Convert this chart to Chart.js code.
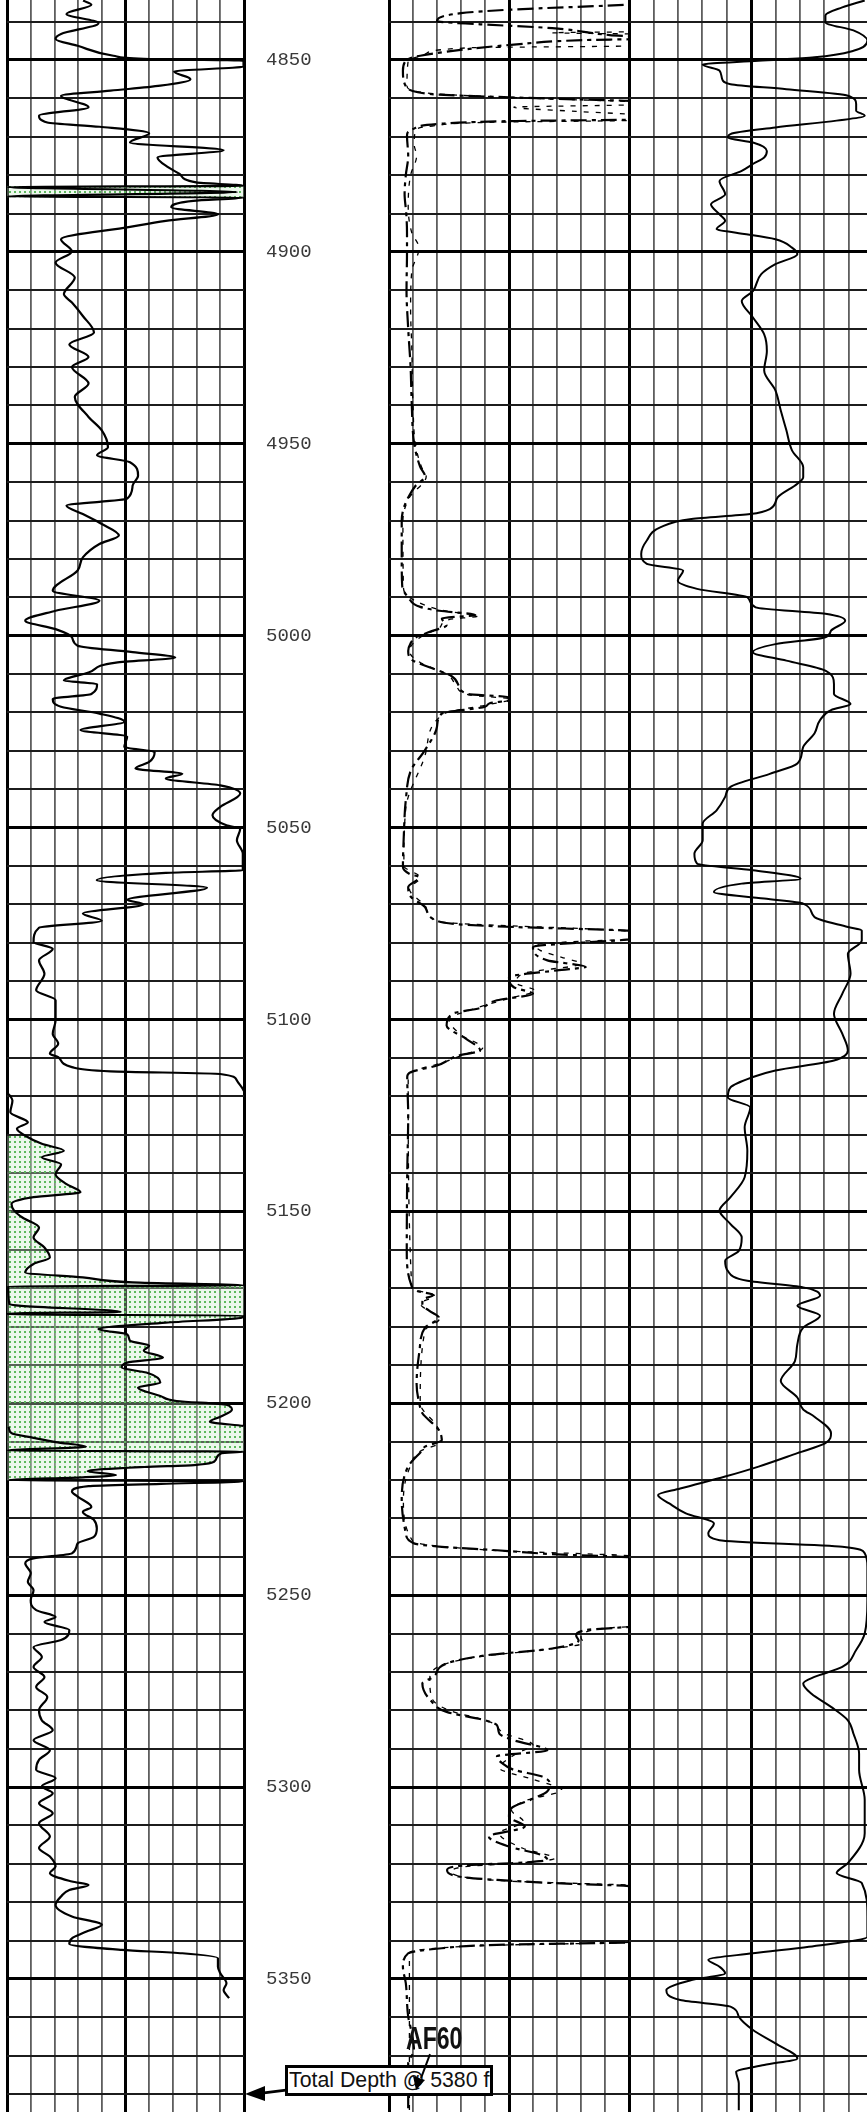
<!DOCTYPE html>
<html>
<head>
<meta charset="utf-8">
<script src="https://cdn.jsdelivr.net/npm/chart.js@4.4.1/dist/chart.umd.min.js"></script>
<style>
  html, body { margin: 0; padding: 0; background: #fff; overflow: hidden; }
  #log { position: relative; width: 867px; height: 2112px; overflow: hidden; background: #fff; }
  #log canvas { position: absolute; top: 0; }
  .td-box { position: absolute; box-sizing: border-box; border: 3px solid #000; background: #fff; overflow: hidden; white-space: nowrap;
    font: 21.3px "Liberation Sans", Arial, sans-serif; line-height: 25px; padding-left: 1px; color: #111; z-index: 5; }
  .marker { position: absolute; font-family: "Liberation Sans", Arial, sans-serif; font-weight: bold; font-size: 32px; line-height: 32px;
    color: #111; z-index: 6; transform: scaleX(0.72); transform-origin: 0 0; white-space: nowrap; }
  #arrows { position: absolute; left: 0; top: 0; z-index: 7; pointer-events: none; }
</style>
</head>
<body>
<div id="log">
  <canvas id="track-1"></canvas>
  <canvas id="track-depth"></canvas>
  <canvas id="track-2"></canvas>
  <canvas id="track-3"></canvas>
</div>
<script>
// depth window of the printed log (ft)
const DEPTH_TOP = 4834.37;
const DEPTH_BOTTOM = 5384.66;
const DEPTH_LABELS = [4850, 4900, 4950, 5000, 5050, 5100, 5150, 5200, 5250, 5300, 5350];
const GRID_STEP = 10;
const TRACK_MAX = 10;
const TD_DEPTH = 5380;
const TD_TEXT = "Total Depth @ 5380 ft";
const MARKER_TEXT = "AF60";

// track 1, values in grid divisions; > 10 means the curve wrapped back from the left edge
const GR = [
  [4834.5, 3.21], [4835.6, 3.56], [4838.0, 2.51], [4840.4, 3.86], [4843.2, 2.28], [4844.5, 2.05], [4846.3, 2.98],
  [4848.9, 4.49], [4849.7, 5.77], [4850.2, 9.98], [4851.7, 9.98], [4853.0, 7.05], [4855.0, 7.74], [4856.7, 6.47],
  [4858.0, 4.37], [4859.3, 2.28], [4862.3, 3.44], [4864.5, 1.35], [4866.3, 1.7], [4867.4, 3.9], [4869.1, 6.0],
  [4871.5, 5.19], [4873.5, 9.14], [4875.4, 6.35], [4878.0, 6.81], [4879.7, 7.28], [4881.9, 7.98], [4882.8, 9.98],
  [4883.1, 10.02], [4884.4, 19.7], [4885.6, 10.02], [4885.8, 9.98], [4886.7, 7.86], [4888.4, 6.93], [4890.2, 8.9],
  [4891.9, 6.7], [4893.5, 5.19], [4896.7, 2.28], [4899.9, 2.74], [4902.8, 2.05], [4906.7, 2.86], [4911.0, 2.4],
  [4913.2, 2.74], [4916.7, 3.2], [4921.0, 3.67], [4924.1, 2.63], [4927.4, 3.44], [4930.0, 2.74], [4934.3, 3.44],
  [4937.8, 2.86], [4943.0, 3.44], [4946.5, 4.0], [4950.9, 4.26], [4953.0, 3.8], [4954.8, 5.19], [4958.3, 5.53],
  [4960.9, 5.3], [4964.3, 5.07], [4966.1, 2.51], [4968.3, 3.2], [4970.9, 4.0], [4973.9, 4.72], [4976.1, 3.9],
  [4979.6, 3.2], [4983.0, 2.98], [4988.3, 1.93], [4990.9, 3.9], [4993.5, 2.05], [4996.1, 0.77], [4998.3, 2.05],
  [5000.4, 2.74], [5002.6, 2.98], [5004.3, 5.3], [5005.7, 7.1], [5007.0, 4.6], [5009.6, 3.44], [5011.7, 2.4],
  [5012.6, 3.8], [5015.2, 3.56], [5016.5, 1.93], [5018.5, 2.28], [5020.3, 3.9], [5022.4, 4.95], [5024.6, 3.1],
  [5026.3, 5.07], [5029.0, 4.95], [5030.3, 6.23], [5032.9, 6.0], [5034.6, 5.42], [5036.0, 7.4], [5037.2, 6.7],
  [5039.0, 9.0], [5041.1, 9.84], [5044.6, 9.0], [5046.8, 8.67], [5049.4, 9.26], [5050.3, 9.84], [5053.3, 9.7],
  [5056.8, 9.95], [5061.1, 9.95], [5061.8, 6.7], [5063.7, 3.79], [5065.7, 8.44], [5068.8, 5.07], [5070.0, 5.77],
  [5072.4, 3.2], [5074.3, 4.0], [5076.1, 1.35], [5079.8, 1.12], [5081.6, 1.93], [5084.6, 1.35], [5088.1, 1.58],
  [5092.4, 1.23], [5095.0, 2.05], [5100.2, 2.05], [5103.7, 1.93], [5106.3, 2.16], [5108.9, 1.81], [5109.8, 2.16],
  [5112.4, 2.74], [5113.5, 4.37], [5114.2, 9.0], [5115.9, 9.7], [5118.1, 9.95], [5118.6, 9.99], [5118.8, null],
  [5119.4, 0.07], [5121.1, 0.23], [5124.2, 0.14], [5126.8, 0.88], [5128.5, 0.42], [5130.3, 0.77], [5132.4, 1.47],
  [5134.2, 2.4], [5135.9, 1.47], [5137.7, 2.28], [5140.3, 2.05], [5142.9, 2.51], [5145.0, 3.1], [5146.3, 1.12],
  [5148.1, 0.19], [5149.8, 0.3], [5151.6, 0.65], [5154.2, 1.35], [5156.8, 1.12], [5159.4, 1.58], [5162.0, 1.81],
  [5163.7, 1.12], [5165.9, 0.77], [5167.2, 3.2], [5168.5, 5.3], [5169.3, 9.98], [5169.5, 10.05], [5174.2, 10.1],
  [5174.6, 10.6], [5176.2, 14.8], [5176.6, 10.02], [5176.9, 10.02], [5177.1, 9.98], [5177.7, 9.9], [5179.0, 6.7],
  [5180.7, 3.86], [5182.0, 5.07], [5183.7, 5.19], [5185.0, 6.0], [5186.3, 5.77], [5188.1, 6.58], [5189.4, 5.07],
  [5190.7, 4.84], [5192.0, 5.88], [5194.6, 6.47], [5195.9, 5.53], [5198.1, 6.47], [5199.4, 7.16], [5200.4, 9.26],
  [5201.7, 9.49], [5203.5, 9.0], [5204.8, 8.56], [5205.9, 9.98], [5206.0, null], [5206.1, 10.07], [5207.8, 10.19],
  [5209.0, 11.12], [5210.1, 12.05], [5211.3, 13.33], [5212.3, 10.02], [5212.6, 9.98], [5213.0, 9.05], [5214.8, 8.8],
  [5216.1, 7.9], [5216.6, 5.8], [5217.7, 3.4], [5218.7, 4.6], [5219.3, 3.2], [5220.0, 0.1], [5220.3, 9.98],
  [5221.0, 6.5], [5221.6, 3.44], [5223.0, 2.74], [5224.3, 2.98], [5227.0, 3.56], [5228.3, 3.2], [5230.4, 3.67],
  [5232.6, 3.79], [5234.8, 3.67], [5236.5, 2.98], [5239.1, 2.74], [5240.4, 1.12], [5241.7, 0.77], [5244.3, 1.0],
  [5246.5, 0.88], [5248.7, 1.12], [5251.3, 1.0], [5253.9, 1.23], [5255.7, 2.05], [5257.0, 1.58], [5259.1, 2.63],
  [5261.7, 2.28], [5263.5, 1.12], [5266.1, 1.47], [5268.7, 1.12], [5271.3, 1.58], [5273.9, 1.23], [5276.5, 1.7],
  [5280.0, 1.35], [5282.6, 1.47], [5285.2, 1.93], [5287.8, 1.12], [5290.4, 1.81], [5292.9, 1.35], [5295.5, 1.23],
  [5297.7, 2.05], [5299.8, 1.47], [5301.6, 1.93], [5304.2, 1.35], [5306.8, 1.93], [5309.4, 1.35], [5312.9, 1.81],
  [5315.9, 1.35], [5318.1, 1.81], [5320.7, 2.05], [5322.4, 1.81], [5324.6, 2.74], [5325.5, 3.44], [5326.8, 2.63],
  [5328.5, 2.28], [5330.7, 2.05], [5333.7, 2.74], [5335.9, 4.0], [5337.7, 3.33], [5339.4, 2.74], [5340.9, 2.63],
  [5342.4, 4.84], [5343.3, 7.4], [5344.6, 8.9], [5346.8, 8.9], [5348.5, 9.0], [5351.1, 9.26], [5352.9, 9.14],
  [5355.0, 9.37]
];
const SAND_RANGES = [[4882.7, 4886.0], [5129.0, 5220.2]];

// track 2, long dash curve and short dash curve
const RES_DEEP = [
  [4834.4, 11.0], [4835.5, 10.1], [4836.9, 5.0], [4837.8, 3.0], [4839.9, 2.0], [4840.7, 3.8], [4841.7, 6.8],
  [4843.5, 9.2], [4844.0, 10.4], [4844.5, 10.4], [4844.8, 8.2], [4846.0, 5.2], [4848.9, 1.3], [4850.2, 0.7],
  [4852.8, 0.58], [4856.8, 0.7], [4858.4, 1.2], [4859.0, 2.0], [4859.6, 4.4], [4860.3, 8.0], [4860.8, 10.4],
  [4865.5, 10.4], [4865.9, 5.3], [4866.6, 2.2], [4868.0, 1.0], [4869.7, 0.75], [4875, 0.8], [4880, 0.7],
  [4885, 0.65], [4890, 0.72], [4895, 0.75], [4900, 0.75], [4910, 0.73], [4920, 0.8], [4930, 0.9], [4940, 0.95],
  [4950, 1.05], [4956, 1.3], [4958.5, 1.5], [4961, 1.1], [4964, 0.8], [4967, 0.6], [4970, 0.53], [4980, 0.53],
  [4987, 0.55], [4990, 0.8], [4992.5, 1.3], [4993.5, 2.1], [4994.6, 3.6], [4995.5, 2.2], [4997.3, 2.4],
  [4999, 1.7], [5000.5, 1.1], [5002, 0.9], [5004, 0.8], [5006.5, 1.0], [5008.5, 1.8], [5010.5, 2.6], [5013, 2.9],
  [5015.2, 3.3], [5016.0, 5.0], [5016.8, 5.0], [5017.6, 4.2], [5018.5, 4.0], [5020.3, 2.2], [5023.7, 2.0],
  [5029.8, 1.5], [5035, 0.92], [5042.9, 0.7], [5051.6, 0.62], [5060.3, 0.58], [5062.2, 0.9], [5062.9, 1.27],
  [5065.5, 0.8], [5068.1, 0.92], [5070.7, 1.5], [5074.2, 1.96], [5075.2, 2.9], [5075.9, 5.2], [5076.8, 9.8],
  [5077.2, 10.4], [5078.8, 10.4], [5079.2, 9.9], [5081.1, 6.0], [5084.6, 6.6], [5086.3, 8.2], [5087.2, 7.0],
  [5089.0, 5.0], [5091.6, 5.2], [5093.3, 6.0], [5095.0, 4.5], [5097.0, 3.8], [5098.5, 2.65], [5101.6, 2.4],
  [5105, 3.2], [5108.1, 3.8], [5109.4, 2.9], [5112, 2.0], [5113.7, 0.92], [5115, 0.76], [5125, 0.8], [5140, 0.76],
  [5160, 0.74], [5169, 0.92], [5170.7, 1.15], [5171.8, 1.85], [5173, 1.4], [5174.2, 1.39], [5176, 1.7],
  [5177.7, 2.08], [5180.3, 1.5], [5186.3, 1.27], [5195, 1.15], [5200.3, 1.27], [5202.6, 1.39], [5207.0, 2.08],
  [5209.6, 2.2], [5211.3, 1.5], [5212.2, 1.39], [5216.5, 0.8], [5225.2, 0.53], [5233.9, 0.7], [5236.5, 1.04],
  [5237.4, 2.2], [5238.3, 4.5], [5239.3, 6.8], [5240.2, 10.2], [5240.6, 10.4], [5257.9, 10.4], [5258.3, 9.9],
  [5259.1, 8.2], [5260.6, 7.8], [5261.8, 7.9], [5263.9, 6.8], [5265.7, 4.0], [5267.8, 2.4], [5271.3, 1.85],
  [5273.0, 1.39], [5277.4, 1.73], [5280.4, 2.4], [5282.6, 4.0], [5283.9, 4.5], [5286.1, 4.6], [5287.8, 5.2],
  [5290.4, 6.6], [5292.0, 4.5], [5293.7, 4.7], [5295.5, 5.2], [5297.2, 6.35], [5299.0, 6.7], [5301.1, 6.6],
  [5303.3, 5.9], [5305.5, 5.1], [5307.7, 5.0], [5310.3, 5.66], [5312.9, 4.16], [5315.5, 5.0], [5317.7, 6.35],
  [5319.0, 6.6], [5319.8, 5.2], [5320.3, 3.35], [5321.6, 2.42], [5323.3, 2.9], [5324.2, 4.5], [5325.0, 6.8],
  [5325.9, 10.2], [5326.3, 10.4], [5340.2, 10.4], [5340.5, 9.9], [5341.1, 4.5], [5342.0, 2.2], [5343.3, 0.8],
  [5346.8, 0.58], [5351.1, 0.7], [5359.8, 0.8], [5363.3, 0.92], [5368.5, 1.04], [5372, 0.8], [5378, 0.8],
  [5384.6, 0.8]
];
const RES_SHALLOW = [
  [4834.4, 11.5], [4842.6, 10.5], [4842.9, 6.8], [4843.3, 10.5], [4846.3, 10.5], [4846.8, 3.4], [4848.5, 1.5],
  [4850.2, 0.8], [4856.8, 0.75], [4858.8, 1.9], [4860.2, 7.0], [4861.0, 10.4], [4861.6, 10.4], [4862.3, 5.2],
  [4863.4, 7.8], [4864.4, 10.4], [4865.7, 10.4], [4866.2, 4.5], [4867.2, 1.8], [4868.5, 1.1], [4872, 1.05],
  [4875, 1.15], [4880, 0.9], [4888, 0.8], [4895, 0.95], [4899, 1.25], [4905, 0.95], [4915, 0.9], [4925, 0.95],
  [4940, 1.0], [4950, 1.1], [4956, 1.35], [4958.5, 1.55], [4964, 0.85], [4970, 0.58], [4987, 0.6], [4990, 0.85],
  [4993.5, 2.3], [4994.9, 3.7], [4995.8, 2.5], [4998, 2.1], [5000, 1.4], [5004, 0.85], [5007, 1.3], [5010, 2.4],
  [5013, 2.8], [5015.5, 3.4], [5016.5, 5.1], [5018, 4.1], [5020.3, 2.3], [5030, 1.55], [5045, 0.7], [5060, 0.62],
  [5063, 1.3], [5066, 0.85], [5071, 1.55], [5074.5, 2.1], [5076.8, 9.5], [5077.5, 10.4], [5079.0, 10.4],
  [5079.6, 8.0], [5080.6, 6.1], [5082, 6.3], [5083.8, 7.2], [5085.5, 8.0], [5088, 5.6], [5090.5, 5.3],
  [5092.5, 6.1], [5094.5, 5.0], [5097.5, 3.4], [5100, 2.5], [5104, 3.0], [5107.5, 3.9], [5109, 3.2],
  [5111.5, 2.1], [5113.5, 1.0], [5116, 0.8], [5170, 0.95], [5172, 1.9], [5174, 1.3], [5178, 2.1], [5181, 1.5],
  [5200, 1.3], [5206, 2.0], [5210, 2.2], [5212.5, 1.3], [5217, 0.85], [5225, 0.6], [5236, 1.0], [5238.3, 4.3],
  [5240, 10.4], [5258, 10.4], [5258.6, 9.0], [5261, 8.0], [5262.5, 8.1], [5264, 6.7], [5266, 3.8], [5268, 2.3],
  [5272, 1.7], [5277, 1.8], [5280, 2.5], [5283, 4.2], [5286, 4.8], [5289, 6.0], [5291, 5.4], [5292.5, 5.0],
  [5295, 4.6], [5298, 6.0], [5300.8, 7.2], [5303.5, 5.7], [5306, 5.1], [5309, 5.6], [5312, 4.6], [5316, 5.6],
  [5318.6, 6.9], [5320.0, 5.0], [5320.6, 3.4], [5322, 2.6], [5323.5, 3.2], [5324.5, 5.0], [5325.8, 10.4],
  [5340.3, 10.4], [5341.3, 4.0], [5343.3, 0.85], [5384.6, 0.85]
];

// track 3
const SONIC = [
  [4834.5, 9.66], [4836.3, 8.74], [4838.4, 8.05], [4840.2, 8.05], [4842.3, 9.2], [4845.0, 9.77], [4847.6, 9.2],
  [4849.3, 7.6], [4850.2, 5.3], [4851.2, 3.02], [4852.8, 3.71], [4855.0, 3.82], [4856.3, 4.16], [4857.6, 6.45],
  [4859.3, 8.97], [4861.5, 9.31], [4863.2, 9.31], [4864.5, 9.66], [4865.8, 8.51], [4867.6, 6.0], [4869.3, 4.16],
  [4870.2, 4.05], [4871.5, 5.08], [4873.7, 5.65], [4875.4, 5.54], [4877.1, 5.08], [4878.9, 4.62], [4881.5, 3.71],
  [4885.0, 3.94], [4887.6, 3.36], [4890.2, 3.71], [4891.9, 3.94], [4894.1, 3.59], [4895.0, 4.39], [4896.7, 6.0],
  [4898.9, 6.68], [4900.6, 6.9], [4903.2, 6.0], [4905.8, 5.42], [4910.2, 5.08], [4912.8, 4.62], [4917.1, 5.08],
  [4921.5, 5.54], [4925.8, 5.65], [4930.9, 5.54], [4936.1, 6.0], [4941.3, 6.22], [4946.5, 6.45], [4951.7, 6.68],
  [4956.1, 7.14], [4958.7, 7.14], [4960.4, 6.9], [4963.9, 6.1], [4967.0, 5.77], [4968.3, 4.97], [4969.6, 2.56],
  [4971.7, 1.3], [4975.2, 0.73], [4978.7, 0.5], [4981.3, 0.73], [4983.0, 2.22], [4985.7, 2.0], [4987.8, 2.79],
  [4990.0, 4.85], [4992.6, 5.19], [4994.3, 8.05], [4996.1, 8.86], [4998.7, 8.28], [5000.4, 8.05], [5002.2, 6.0],
  [5004.3, 5.08], [5006.5, 6.45], [5009.1, 8.05], [5012.6, 8.4], [5015.2, 8.4], [5017.8, 9.08], [5019.4, 8.28],
  [5022.0, 7.83], [5025.5, 7.6], [5029.0, 7.14], [5033.3, 6.9], [5036.0, 5.77], [5039.4, 4.16], [5042.0, 3.94],
  [5045.5, 3.59], [5049.0, 3.02], [5053.3, 3.02], [5056.8, 2.68], [5059.4, 2.79], [5061.1, 5.08], [5063.3, 7.03],
  [5064.6, 4.62], [5066.8, 3.48], [5068.5, 5.54], [5069.8, 7.14], [5073.3, 7.6], [5075.9, 8.97], [5076.8, 9.54],
  [5079.4, 9.54], [5082.9, 8.97], [5088.1, 9.08], [5093.3, 8.74], [5098.5, 8.4], [5103.7, 8.74], [5108.1, 8.97],
  [5110.7, 8.4], [5113.3, 6.0], [5115.0, 5.08], [5117.7, 4.16], [5120.3, 4.05], [5122.9, 4.97], [5128.1, 4.74],
  [5134.2, 4.85], [5141.1, 4.74], [5146.3, 4.16], [5149.8, 3.71], [5153.3, 4.16], [5156.8, 4.62], [5160.3, 4.5],
  [5162.9, 3.94], [5165.5, 4.05], [5168.1, 4.85], [5169.8, 7.14], [5172.0, 7.83], [5174.6, 6.9], [5177.2, 7.83],
  [5180.3, 7.14], [5184.6, 6.9], [5189.0, 6.8], [5194.2, 6.22], [5198.5, 6.9], [5201.6, 7.14], [5203.5, 7.6],
  [5207.8, 8.28], [5210.4, 8.05], [5213.0, 6.9], [5216.5, 5.31], [5219.1, 3.94], [5222.2, 2.1], [5223.9, 1.19],
  [5226.1, 1.65], [5228.7, 2.33], [5231.3, 3.48], [5233.9, 3.25], [5235.7, 3.71], [5237.4, 8.74], [5239.1, 9.66],
  [5242.6, 9.77], [5251.3, 9.77], [5260.0, 9.66], [5264.3, 9.31], [5268.7, 8.74], [5271.3, 7.6], [5273.0, 7.14],
  [5275.7, 7.48], [5279.1, 8.28], [5282.6, 8.97], [5286.1, 9.2], [5291.3, 9.43], [5295.5, 9.43], [5303.3, 9.66],
  [5312.0, 9.66], [5319.8, 8.97], [5322.4, 8.51], [5325.0, 9.54], [5333.7, 9.77], [5339.0, 9.77], [5341.6, 7.37],
  [5343.3, 5.08], [5345.0, 3.25], [5346.8, 3.71], [5348.5, 3.94], [5350.3, 2.56], [5352.9, 1.53], [5355.5, 2.1],
  [5357.2, 4.16], [5359.8, 4.5], [5363.3, 5.08], [5366.8, 6.0], [5370.7, 6.9], [5372.4, 5.54], [5374.2, 4.39],
  [5377.2, 4.5], [5384.2, 4.5]
];

const LogPage = (() => {
  const TRACKS = [
    { id: "track-1", left: 7, width: 237 },
    { id: "track-2", left: 389, width: 240 },
    { id: "track-3", left: 629, width: 244 }
  ];
  const DEPTH_TRACK = { id: "track-depth", left: 244, width: 145 };
  const HEIGHT = 2112;
  const PAD = 4;
  const charts = [];

  function init() {
    const sand = sandPattern();
    charts.push(trackChart(TRACKS[0], [
      curve(GR, wrapValue, { borderWidth: 2.2, cubicInterpolationMode: "monotone", order: 1 }),
      { data: sandPoints(), borderWidth: 0, borderColor: "transparent", backgroundColor: sand, fill: { value: 0 }, order: 2, cubicInterpolationMode: "monotone" }
    ]));
    charts.push(trackChart(TRACKS[1], [
      curve(RES_DEEP, v => v, { borderWidth: 2.2, borderDash: [16, 5, 4, 5], cubicInterpolationMode: "monotone", order: 1 }),
      curve(RES_SHALLOW, v => v, { borderWidth: 1.3, borderDash: [5, 7], cubicInterpolationMode: "monotone", order: 2 })
    ]));
    charts.push(trackChart(TRACKS[2], [
      curve(SONIC, v => v, { borderWidth: 2, cubicInterpolationMode: "monotone" })
    ]));
    const depth = depthChart();
    charts.push(depth);
    addAnnotations(depth.scales.y.getPixelForValue(TD_DEPTH));
  }

  function curve(rows, map, extra) {
    return Object.assign({
      data: rows.map(([depth, value]) => ({ x: value === null ? null : map(value), y: depth })),
      borderColor: "#000",
      backgroundColor: "transparent",
      fill: false,
      spanGaps: false
    }, extra);
  }

  function wrapValue(value) {
    return value > TRACK_MAX ? value - TRACK_MAX : value;
  }

  function sandPoints() {
    const points = [];
    SAND_RANGES.forEach(([top, bottom]) => {
      GR.filter(([depth, value]) => depth >= top && depth <= bottom && value !== null)
        .forEach(([depth, value]) => points.push({ x: value, y: depth }));
      points.push({ x: null, y: bottom });
    });
    return points;
  }

  function sandPattern() {
    const tile = document.createElement("canvas");
    tile.width = 5;
    tile.height = 5;
    const ctx = tile.getContext("2d");
    ctx.fillStyle = "rgba(200, 235, 200, 0.35)";
    ctx.fillRect(0, 0, 5, 5);
    ctx.fillStyle = "#5cb85c";
    ctx.fillRect(1, 1, 2, 2);
    return ctx.createPattern(tile, "repeat");
  }

  function sizeCanvas(canvas, left, width) {
    canvas.width = width;
    canvas.height = HEIGHT;
    canvas.style.left = left + "px";
    canvas.style.width = width + "px";
    canvas.style.height = HEIGHT + "px";
  }

  function gridDepths() {
    const ticks = [];
    for (let d = Math.ceil(DEPTH_TOP / GRID_STEP) * GRID_STEP; d <= DEPTH_BOTTOM; d += GRID_STEP) ticks.push(d);
    return ticks;
  }

  function trackChart(track, datasets) {
    const canvas = document.getElementById(track.id);
    sizeCanvas(canvas, track.left - PAD, track.width + PAD * 2);
    return new Chart(canvas, {
      type: "line",
      data: { datasets },
      options: {
        indexAxis: "y",
        responsive: false,
        animation: false,
        devicePixelRatio: 1,
        events: [],
        layout: { padding: { left: PAD, right: PAD, top: 0, bottom: 0 } },
        elements: { point: { radius: 0 } },
        plugins: { legend: { display: false }, tooltip: { enabled: false } },
        scales: {
          x: {
            type: "linear", min: 0, max: TRACK_MAX,
            afterBuildTicks: scale => { scale.ticks = Array.from({ length: TRACK_MAX + 1 }, (_, i) => ({ value: i })); },
            afterFit: scale => { scale.height = 0; },
            ticks: { display: false },
            border: { display: false },
            grid: {
              drawTicks: false,
              color: ctx => ctx.tick.value % 5 === 0 ? "#000" : "#5e5e5e",
              lineWidth: ctx => ctx.tick.value % 5 === 0 ? 3 : 1.8
            }
          },
          y: {
            type: "linear", reverse: true, min: DEPTH_TOP, max: DEPTH_BOTTOM,
            afterBuildTicks: scale => { scale.ticks = gridDepths().map(value => ({ value })); },
            afterFit: scale => { scale.width = 0; },
            ticks: { display: false },
            border: { display: false },
            grid: {
              drawTicks: false,
              color: ctx => ctx.tick.value % 50 === 0 ? "#000" : "#1c1c1c",
              lineWidth: ctx => ctx.tick.value % 50 === 0 ? 3 : 2
            }
          }
        }
      }
    });
  }

  const tdArrow = {
    id: "tdArrow",
    afterDraw(chart) {
      const y = chart.scales.y.getPixelForValue(TD_DEPTH);
      const ctx = chart.ctx;
      ctx.save();
      ctx.strokeStyle = "#000";
      ctx.fillStyle = "#000";
      ctx.lineWidth = 3;
      ctx.beginPath();
      ctx.moveTo(42, y - 4);
      ctx.lineTo(18, y - 1);
      ctx.stroke();
      ctx.beginPath();
      ctx.moveTo(1, y);
      ctx.lineTo(21, y - 8);
      ctx.lineTo(21, y + 7);
      ctx.closePath();
      ctx.fill();
      ctx.restore();
    }
  };

  function depthChart() {
    const canvas = document.getElementById(DEPTH_TRACK.id);
    sizeCanvas(canvas, DEPTH_TRACK.left, DEPTH_TRACK.width);
    return new Chart(canvas, {
      type: "line",
      data: { datasets: [] },
      plugins: [tdArrow],
      options: {
        responsive: false,
        animation: false,
        devicePixelRatio: 1,
        events: [],
        layout: { padding: { left: 22, right: 0, top: 0, bottom: 0 } },
        plugins: { legend: { display: false }, tooltip: { enabled: false } },
        scales: {
          x: { type: "linear", display: false, min: 0, max: 1 },
          y: {
            type: "linear", reverse: true, min: DEPTH_TOP, max: DEPTH_BOTTOM,
            afterBuildTicks: scale => { scale.ticks = DEPTH_LABELS.map(value => ({ value })); },
            afterFit: scale => { scale.width = 80; scale.paddingTop = 0; scale.paddingBottom = 0; },
            border: { display: false },
            grid: { display: false },
            ticks: {
              crossAlign: "far",
              color: "#3a3a3a",
              font: { family: "'Liberation Mono', 'Courier New', monospace", size: 19 },
              callback: value => String(value)
            }
          }
        }
      }
    });
  }

  function addAnnotations(tdY) {
    const log = document.getElementById("log");
    const box = document.createElement("div");
    box.className = "td-box";
    box.textContent = TD_TEXT;
    Object.assign(box.style, { left: "285px", top: (tdY - 29) + "px", width: "208px", height: "31px" });
    log.appendChild(box);

    const marker = document.createElement("div");
    marker.className = "marker";
    marker.textContent = MARKER_TEXT;
    Object.assign(marker.style, { left: "406px", top: (tdY - 72) + "px" });
    log.appendChild(marker);

    const ns = "http://www.w3.org/2000/svg";
    const svg = document.createElementNS(ns, "svg");
    svg.setAttribute("id", "arrows");
    svg.setAttribute("width", "867");
    svg.setAttribute("height", String(HEIGHT));
    const line = document.createElementNS(ns, "line");
    line.setAttribute("x1", "430");
    line.setAttribute("y1", String(tdY - 40));
    line.setAttribute("x2", "421");
    line.setAttribute("y2", String(tdY - 16));
    line.setAttribute("stroke", "#000");
    line.setAttribute("stroke-width", "2");
    const head = document.createElementNS(ns, "polygon");
    head.setAttribute("points", `413,${tdY - 18} 425,${tdY - 14} 416,${tdY - 4}`);
    head.setAttribute("fill", "#000");
    svg.appendChild(line);
    svg.appendChild(head);
    log.appendChild(svg);
  }

  return { init };
})();

document.addEventListener("DOMContentLoaded", LogPage.init);
</script>
</body>
</html>
